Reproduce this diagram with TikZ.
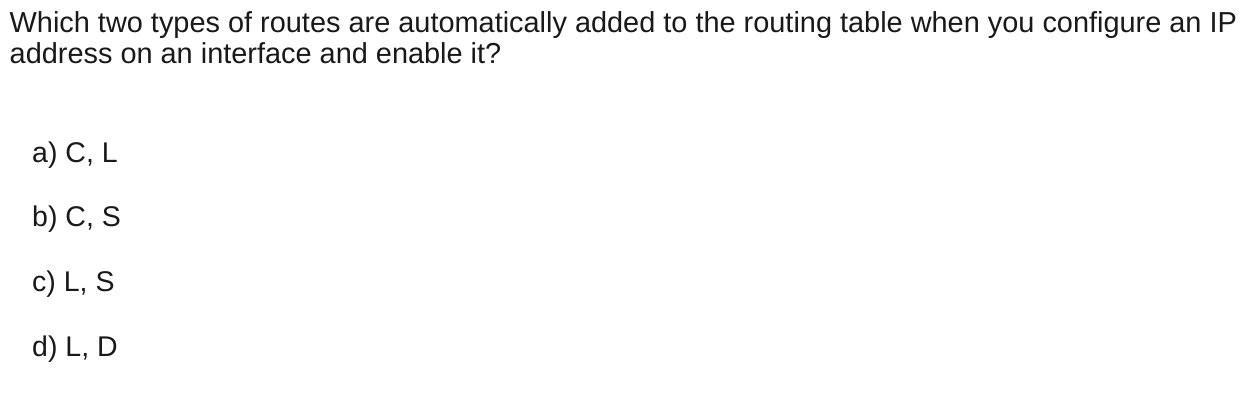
\documentclass[tikz,border=0pt]{standalone}
\usepackage{fontspec}
\setmainfont{Liberation Sans}
\begin{document}
\begin{tikzpicture}[x=1bp,y=-1bp,
  qtext/.style={anchor=base west,inner sep=0pt,font=\fontsize{28.9bp}{31bp}\selectfont,text=black!90},
  opt/.style={anchor=base west,inner sep=0pt,font=\fontsize{28.5bp}{31bp}\selectfont,text=black!90}]
\fill[white] (0,0) rectangle (1251,410);
\useasboundingbox (0,0) rectangle (1251,410);
\node[qtext] (q1) at (9.5,32) {Which two types of routes are automatically added to the routing table when you configure an IP};
\node[qtext] (q2) at (9.5,63.5) {address on an interface and enable it?};
\node[opt] (a) at (32,162.3) {a) C, L};
\node[opt] (b) at (32,226.7) {b) C, S};
\node[opt] (c) at (32,291.7) {c) L, S};
\node[opt] (d) at (32,356) {d) L, D};
\end{tikzpicture}
\end{document}
